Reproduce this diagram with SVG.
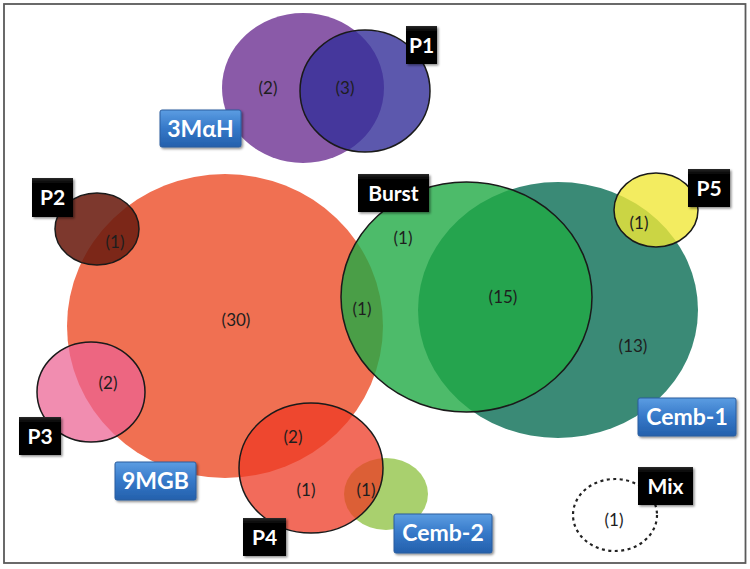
<svg xmlns="http://www.w3.org/2000/svg" width="750" height="569" viewBox="0 0 750 569">
<defs>
<linearGradient id="blueGrad" x1="0" y1="0" x2="0" y2="1">
<stop offset="0" stop-color="#5c9de2"/>
<stop offset="0.5" stop-color="#3578c8"/>
<stop offset="1" stop-color="#2460ac"/>
</linearGradient>
<linearGradient id="blackGrad" x1="0" y1="0" x2="0" y2="1">
<stop offset="0" stop-color="#2a2a2a"/>
<stop offset="0.15" stop-color="#000"/>
<stop offset="1" stop-color="#000"/>
</linearGradient>
<filter id="shadow" x="-20%" y="-20%" width="150%" height="150%">
<feDropShadow dx="1.5" dy="1.5" stdDeviation="1.2" flood-color="#000" flood-opacity="0.45"/>
</filter>
</defs>
<style>
.frame{fill:#fff;stroke:#5a5a5a;stroke-width:1.8}
.edge{stroke:#1a1a1a;stroke-width:1.5}
.num{font-family:Lato,"Liberation Sans",sans-serif;font-size:17px;fill:#1e1e1e;text-anchor:middle}
.blk rect{fill:url(#blackGrad);filter:url(#shadow)}
.blk text{font-family:Lato,"Liberation Sans",sans-serif;font-weight:bold;font-size:21px;fill:#fff;text-anchor:middle}
.blu rect{fill:url(#blueGrad);stroke:#2a5d9e;stroke-width:1;filter:url(#shadow)}
.blu text{font-family:Lato,"Liberation Sans",sans-serif;font-weight:bold;font-size:23px;fill:#fff;text-anchor:middle}
</style>
<rect class="frame" x="4" y="4" width="741.5" height="559"/>

<g id="set-3MaH"><ellipse cx="303" cy="88" rx="81" ry="75" fill="#8a5aa8"/></g>
<g id="set-P1"><ellipse class="edge" cx="365" cy="91" rx="65" ry="61" fill="#332e98" fill-opacity="0.8"/></g>
<g id="set-9MGB"><ellipse cx="225" cy="326" rx="158" ry="152" fill="#f07052"/></g>
<g id="set-P2"><ellipse class="edge" cx="97" cy="229" rx="42" ry="36" fill="#6b1d10" fill-opacity="0.88"/></g>
<g id="set-P3"><ellipse class="edge" cx="91" cy="392" rx="54" ry="50" fill="#ec6393" fill-opacity="0.73"/></g>
<g id="set-Cemb-2"><ellipse cx="386" cy="494" rx="42" ry="36" fill="#a9d06e"/></g>
<g id="set-P4"><ellipse class="edge" cx="311" cy="468" rx="72" ry="65" fill="#ee3a24" fill-opacity="0.75"/></g>
<g id="set-Cemb-1"><ellipse cx="558" cy="310" rx="140" ry="128" fill="#3a8a76"/></g>
<g id="set-Burst"><ellipse class="edge" cx="466.5" cy="297" rx="125.5" ry="115" fill="#20aa45" fill-opacity="0.8"/></g>
<g id="set-P5"><ellipse class="edge" cx="656" cy="210" rx="42" ry="37" fill="#f0e738" fill-opacity="0.8"/></g>
<g id="set-Mix"><ellipse cx="615" cy="515" rx="42" ry="36" fill="none" stroke="#222" stroke-width="2.2" stroke-dasharray="3 3.5"/></g>

<g id="counts">
<text class="num" x="268" y="94">(2)</text>
<text class="num" x="345" y="94">(3)</text>
<text class="num" x="115" y="248">(1)</text>
<text class="num" x="236" y="326">(30)</text>
<text class="num" x="108" y="389">(2)</text>
<text class="num" x="293" y="443">(2)</text>
<text class="num" x="306" y="496">(1)</text>
<text class="num" x="366" y="496">(1)</text>
<text class="num" x="403" y="244">(1)</text>
<text class="num" x="362" y="315">(1)</text>
<text class="num" x="503" y="303">(15)</text>
<text class="num" x="633" y="352">(13)</text>
<text class="num" x="639" y="229">(1)</text>
<text class="num" x="614" y="526">(1)</text>
</g>

<g id="label-P1" class="blk"><rect x="406" y="26" width="31" height="38"/><text x="421.5" y="53">P1</text></g>
<g id="label-3MaH" class="blu"><rect x="160" y="110" width="81" height="37" rx="2"/><text x="200.5" y="137">3MαH</text></g>
<g id="label-P2" class="blk"><rect x="32" y="178" width="41" height="39"/><text x="52.5" y="205">P2</text></g>
<g id="label-Burst" class="blk"><rect x="358" y="174" width="71" height="38"/><text x="393.5" y="201">Burst</text></g>
<g id="label-P5" class="blk"><rect x="688" y="169" width="42" height="38"/><text x="709" y="196">P5</text></g>
<g id="label-P3" class="blk"><rect x="19" y="417" width="42" height="38"/><text x="40" y="444">P3</text></g>
<g id="label-9MGB" class="blu"><rect x="115" y="462" width="81" height="38" rx="2"/><text x="155.5" y="489">9MGB</text></g>
<g id="label-P4" class="blk"><rect x="243" y="518" width="43" height="38"/><text x="264.5" y="545">P4</text></g>
<g id="label-Cemb-2" class="blu"><rect x="394" y="514" width="98" height="39" rx="2"/><text x="443" y="541">Cemb-2</text></g>
<g id="label-Cemb-1" class="blu"><rect x="638" y="398" width="98" height="38" rx="2"/><text x="687" y="425">Cemb-1</text></g>
<g id="label-Mix" class="blk"><rect x="638" y="467" width="55" height="38"/><text x="665.5" y="494">Mix</text></g>
<g id="connectors"/>
</svg>
